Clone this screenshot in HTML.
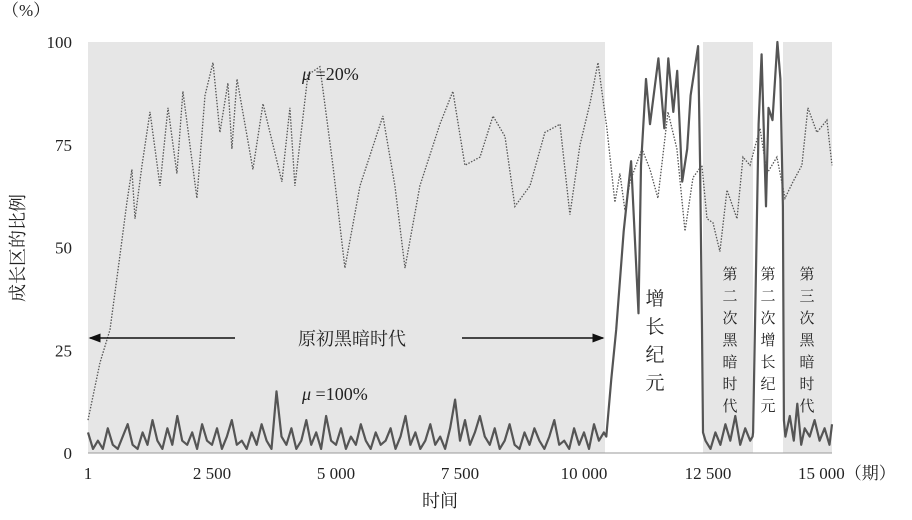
<!DOCTYPE html>
<html><head><meta charset="utf-8">
<style>
body{margin:0;background:#fff;}
svg{display:block;font-family:"Liberation Serif","Noto Serif CJK SC",serif;}
</style></head>
<body>
<svg id="chart" width="912" height="520" viewBox="0 0 912 520"></svg>
<script>
// ---- data ----
const xTicks = [1, 2500, 5000, 7500, 10000, 12500, 15000];
const xTickLabels = ["1", "2 500", "5 000", "7 500", "10 000", "12 500", "15 000（期）"];
const yTicks = [0, 25, 50, 75, 100];
const mu20Periods = [0,242,444,645,786,887,948,1089,1250,1452,1613,1794,1915,2197,2359,2520,2661,2822,2903,3004,3326,3528,3911,4072,4173,4435,4677,4939,5181,5484,5947,6189,6391,6693,7096,7358,7600,7903,8165,8407,8608,8911,9213,9516,9717,9919,10120,10282,10463,10624,10725,10826,10927,11169,11330,11491,11693,11874,12036,12197,12378,12479,12600,12741,12883,13084,13205,13346,13548,13689,13890,14052,14213,14394,14515,14696,14898,15000];
const mu20Values = [8,22,30,48,61,69,57,70,83,65,84,68,88,62,87,95,78,90,74,91,69,85,66,84,65,92,94,70,45,65,82,65,45,65,80,88,70,72,82,77,60,65,78,80,58,75,85,95,79,61,68,59,66,74,69,62,83,74,54,67,70,57,56,49,64,57,72,70,79,68,72,62,66,70,84,78,81,70];
const darkNoise = [5,1,3,1,6,2,1,4,7,2,1,5,2,8,3,1,6,2,9,3,2,5,1,7,3,2,6,1,4,8,2,3,1,5,2,7,3,1,15,4,2,6,1,3,8,2,5,1,9,3,2,6,1,4,2,7,3,1,5,2,3,6,1,4,9,2,5,1,3,7,2,4,1,6,13,3,8,2,5,9,4,2,6,1,3,7,2,1,5,2,6,3,1,4,8,2,3,1,6,2,5,1,7,3,5];
const growthPeriods = [10450,10550,10650,10800,10950,11050,11100,11150,11250,11330,11500,11620,11700,11800,11880,11980,12080,12150,12300,12340,12380,12400];
const growthValues = [4,18,30,54,71,46,34,70,91,80,96,79,96,83,93,66,74,87,99,70,30,5];
const dark2Periods = [12450,12550,12650,12750,12850,12950,13050,13150,13250,13350,13400];
const dark2Values = [3,1,5,2,7,3,9,2,6,3,4];
const growth2Periods = [13410,13520,13580,13670,13720,13800,13900,13960,14010,14030];
const growth2Values = [5,80,97,60,84,81,100,91,60,8];
const dark3Periods = [14060,14150,14230,14300,14380,14450,14550,14650,14750,14850,14950,15000];
const dark3Values = [4,9,3,12,2,6,4,8,3,6,2,7];

// ---- axes ----
const X0 = 88, X1 = 832, Y0 = 453, Y1 = 42;
const xs = p => X0 + (p - 1) / (15000 - 1) * (X1 - X0);
const ys = v => Y0 - v / 100 * (Y0 - Y1);
const NS = "http://www.w3.org/2000/svg";
const svg = document.getElementById("chart");
function mk(tag, attrs, parent) {
  const e = document.createElementNS(NS, tag);
  for (const k in attrs) e.setAttribute(k, attrs[k]);
  (parent || svg).appendChild(e);
  return e;
}
const bg = mk("rect", {x: X0, y: Y1, width: X1 - X0, height: Y0 - Y1, fill: "#e6e6e6"});


const w1 = mk("rect", {x: xs(10423), y: Y1, width: xs(12400) - xs(10423), height: Y0 - Y1, fill: "#fff"});


const w2 = mk("rect", {x: xs(13407), y: Y1, width: xs(14012) - xs(13407), height: Y0 - Y1, fill: "#fff"});


const base = mk("line", {x1: X0, y1: Y0, x2: X1, y2: Y0, stroke: "#999", "stroke-width": 1});



yTicks.forEach(v => {
  const t = mk("text", {x: 72, y: ys(v) + 6, "text-anchor": "end", "font-size": 17, fill: "#222"});
  t.textContent = v;
  
  
});
xTicks.forEach((p, i) => {
  const last = i === xTicks.length - 1;
  const t = mk("text", {x: last ? xs(p) - 34 : xs(p), y: 479, "text-anchor": last ? "start" : "middle", "font-size": 17, fill: "#222"});
  t.textContent = xTickLabels[i];
  
  
});

function pathOf(ps, vs) { return ps.map((p, i) => (i ? "L" : "M") + xs(p).toFixed(1) + "," + ys(vs[i]).toFixed(1)).join(""); }
const l20 = mk("path", {d: pathOf(mu20Periods, mu20Values), fill: "none", stroke: "#555", "stroke-width": 1.3, "stroke-dasharray": "1.5 1.5"});


const darkPeriods = darkNoise.map((v, i) => 1 + i * 100);
const allP = darkPeriods.concat(growthPeriods, dark2Periods, growth2Periods, dark3Periods);
const allV = darkNoise.concat(growthValues, dark2Values, growth2Values, dark3Values);
const l100 = mk("path", {d: pathOf(allP, allV), fill: "none", stroke: "#555", "stroke-width": 2.2, "stroke-linejoin": "round"});



const defs = mk("defs", {});
const mkr = mk("marker", {id: "ah", markerWidth: 8, markerHeight: 6, refX: 7, refY: 3, orient: "auto"}, defs);
mk("path", {d: "M0,0L8,3L0,6Z", fill: "#111"}, mkr);
const a1 = mk("line", {x1: 235, y1: 338, x2: 90, y2: 338, stroke: "#111", "stroke-width": 1.5, "marker-end": "url(#ah)"});


const a2 = mk("line", {x1: 462, y1: 338, x2: 603, y2: 338, stroke: "#111", "stroke-width": 1.5, "marker-end": "url(#ah)"});



function txt(s, x, y, size, name, anchor) {
  const t = mk("text", {x: x, y: y, "font-size": size, fill: "#222", "text-anchor": anchor || "start"});
  t.innerHTML = s;
  
  
  return t;
}
txt("（%）", 2, 16, 17, "y-unit-label");
txt("时间", 440, 507, 18, "x-axis-title", "middle");
const yt = txt("成长区的比例", 0, 0, 18, "y-axis-title", "middle");
yt.setAttribute("transform", "translate(24,248) rotate(-90)");
txt('<tspan font-style="italic">μ</tspan> =20%', 302, 80, 18, "mu-20-label");
txt('<tspan font-style="italic">μ</tspan> =100%', 302, 400, 18, "mu-100-label");
txt("原初黑暗时代", 352, 345, 18, "primordial-dark-age-label", "middle");
function vtxt(s, x, y0, step, size, name) {
  const g = mk("g", {});
  
  
  [...s].forEach((c, i) => {
    const t = mk("text", {x: x, y: y0 + i * step, "font-size": size, fill: "#222", "text-anchor": "middle"}, g);
    t.textContent = c;
  });
}
vtxt("增长纪元", 655, 305, 28, 19, "growth-era-label");
vtxt("第二次黑暗时代", 730, 279, 22, 15, "second-dark-age-label");
vtxt("第二次增长纪元", 768, 279, 22, 15, "second-growth-era-label");
vtxt("第三次黑暗时代", 807, 279, 22, 15, "third-dark-age-label");
</script>
</body></html>
